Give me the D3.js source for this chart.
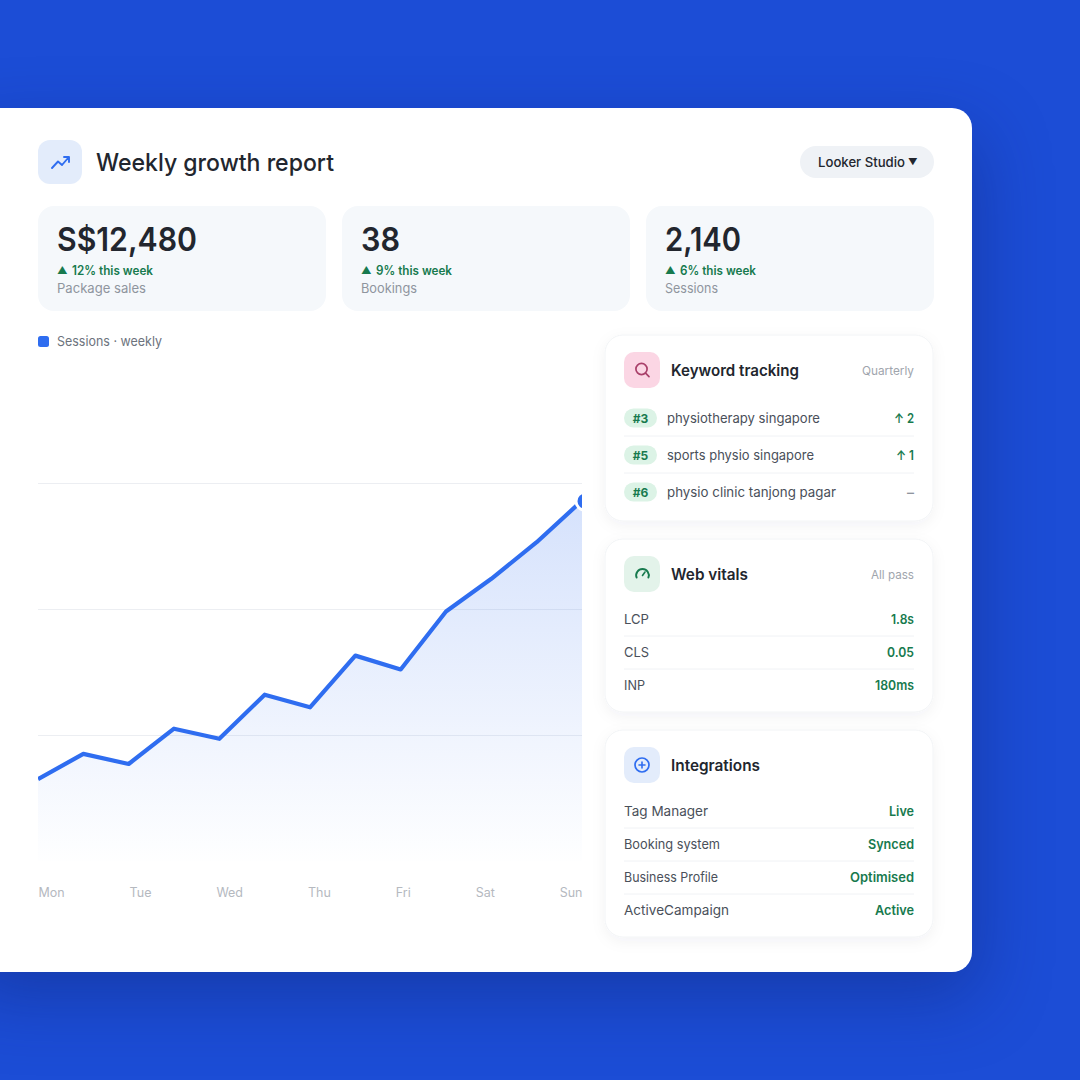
<!DOCTYPE html>
<html><head><meta charset="utf-8">
<script src="https://cdnjs.cloudflare.com/ajax/libs/d3/7.8.5/d3.min.js"></script>
<style>html,body{margin:0;padding:0;background:#1c4dd6;overflow:hidden}svg{display:block;position:absolute;left:0;top:0}text{font-family:Inter,"Noto Sans",sans-serif}
#shadow{position:absolute;left:-40px;top:108px;width:1012px;height:864px;border-radius:20px;box-shadow:6px 26px 70px rgba(12,32,105,.38)}</style>
</head><body><div id="shadow"></div><svg id="c" width="1080" height="1080" viewBox="0 0 1080 1080"></svg>
<script>
const pointIndex=[0,1,2,3,4,5,6,7,8,9,10,11,12];
const sessions=[65,85,77,105,97,132,122,163,152,198,224,253,286];
const gridTicks=[100,200,300];
const days=["Mon","Tue","Wed","Thu","Fri","Sat","Sun"];
const kpiValues=["S$12,480","38","2,140"];
const kpiDeltas=["12% this week","9% this week","6% this week"];
const kpiLabels=["Package sales","Bookings","Sessions"];
const keywordRanks=["#3","#5","#6"];
const keywordTerms=["physiotherapy singapore","sports physio singapore","physio clinic tanjong pagar"];
const keywordMoves=["↑ 2","↑ 1","–"];
const vitalNames=["LCP","CLS","INP"];
const vitalValues=["1.8s","0.05","180ms"];
const integrationNames=["Tag Manager","Booking system","Business Profile","ActiveCampaign"];
const integrationStates=["Live","Synced","Optimised","Active"];

const INK="#22262e",MUTED="#8f959e",BODY="#4a505a",GREEN="#177a4e",BLUE="#2f6df0",LINE="#f0f2f5";
const svg=d3.select("#c"),defs=svg.append("defs");
const pf=defs.append("filter").attr("id","panelShadow").attr("x","-15%").attr("y","-15%").attr("width","130%").attr("height","135%");
pf.append("feDropShadow").attr("dx",0).attr("dy",4).attr("stdDeviation",7).attr("flood-color","#1a2a50").attr("flood-opacity",.05);
const ag=defs.append("linearGradient").attr("id","area").attr("gradientUnits","userSpaceOnUse").attr("x1",0).attr("x2",0).attr("y1",500).attr("y2",861);
ag.append("stop").attr("offset",0).attr("stop-color",BLUE).attr("stop-opacity",.2);
ag.append("stop").attr("offset",1).attr("stop-color",BLUE).attr("stop-opacity",.005);
defs.append("clipPath").attr("id","plot").append("rect").attr("x",38).attr("y",400).attr("width",544).attr("height",461);

svg.append("rect").attr("x",-40).attr("y",108).attr("width",1012).attr("height",864).attr("rx",20).attr("fill","#fff");

function t(g,x,y,s,o={}){
  const e=g.append("text").attr("x",x).attr("y",y).text(s)
   .attr("font-size",o.size||13).attr("font-weight",o.weight||400).attr("fill",o.fill||BODY)
   .attr("text-anchor",o.anchor||"start").attr("dominant-baseline","central");
  if(o.w){e.attr("textLength",o.w).attr("lengthAdjust","spacingAndGlyphs");}
  return e;
}
const root=svg.append("g");
// header
root.append("rect").attr("x",38).attr("y",140).attr("width",44).attr("height",44).attr("rx",12).attr("fill","#e3ecfb");
root.append("path").attr("d","M52 168l6-6.5 4 3.5 6.5-7.5M64 157h5v5").attr("fill","none").attr("stroke",BLUE).attr("stroke-width",1.9).attr("stroke-linecap","round").attr("stroke-linejoin","round");
t(root,96,162,"Weekly growth report",{size:24,weight:500,fill:INK,w:238});
root.append("rect").attr("x",800).attr("y",146).attr("width",134).attr("height",32).attr("rx",16).attr("fill","#eff2f6");
t(root,818,161.5,"Looker Studio",{size:13,weight:500,fill:INK,w:87});
t(root,908,161.5,"▼",{size:9.5,fill:INK});

// KPI cards
const kpiX=[38,342,646],kpiW=[140,39,76],dW=[81,76,76],lW=[89,56,53];
kpiValues.forEach((v,i)=>{
  const x=kpiX[i];
  root.append("rect").attr("x",x).attr("y",206).attr("width",288).attr("height",105).attr("rx",16).attr("fill","#f5f8fb");
  t(root,x+19,239,v,{size:33,weight:600,fill:INK,w:kpiW[i]});
  t(root,x+19,270,"▲",{size:10.5,fill:GREEN});
  t(root,x+34,270,kpiDeltas[i],{size:12.5,weight:600,fill:GREEN,w:dW[i]});
  t(root,x+19,288,kpiLabels[i],{size:13.5,fill:MUTED,w:lW[i]});
});
// legend
root.append("rect").attr("x",38).attr("y",336).attr("width",11).attr("height",11).attr("rx",2.5).attr("fill",BLUE);
t(root,57,341,"Sessions · weekly",{size:13.5,fill:"#6d737d",w:105});

// chart
const x=d3.scaleLinear().domain([0,12]).range([38,582]);
const y=d3.scaleLinear().domain([0,300]).range([861,483]);
const gridG=root.append("g").attr("transform","translate(38,0)").call(d3.axisLeft(y).tickValues(gridTicks).tickSize(-544).tickFormat(""));
gridG.select(".domain").remove();
gridG.selectAll("line").attr("stroke","#eceef2").attr("stroke-width",1);
const plot=root.append("g").attr("clip-path","url(#plot)");
plot.append("path").datum(sessions).attr("fill","url(#area)")
  .attr("d",d3.area().x((d,i)=>x(pointIndex[i])).y0(y(0)).y1(d=>y(d)));
const lineG=root.append("g").attr("clip-path","url(#plot)");
lineG.append("path").datum(sessions).attr("fill","none").attr("stroke",BLUE).attr("stroke-width",4.2).attr("stroke-linejoin","round")
  .attr("d",d3.line().x((d,i)=>x(pointIndex[i])).y(d=>y(d)));
lineG.append("circle").attr("cx",x(12)+3).attr("cy",y(sessions[12])+.5).attr("r",9).attr("fill",BLUE).attr("stroke","#fff").attr("stroke-width",3);

// x axis: labels spread edge to edge
const meas=root.append("g").attr("opacity",0);
const widths=days.map(d=>t(meas,0,0,d,{size:12.5}).node().getComputedTextLength());
meas.remove();
const gap=(544-d3.sum(widths))/(days.length-1);
let cur=38;const centres=widths.map(w=>{const c=cur+w/2;cur+=w+gap;return c;});
const xDay=d3.scaleOrdinal().domain(days).range(centres);
const ax=root.append("g").attr("transform","translate(0,892)").call(d3.axisBottom(xDay).tickSize(0).tickPadding(0));
ax.select(".domain").remove();
ax.selectAll("text").attr("font-size",12.5).attr("fill","#b5b9bf").attr("dy",0).attr("dominant-baseline","central").style("font-family","Inter,sans-serif");

// panels
function panel(py,ph,iconFill,title,tw,note,nw){
  root.append("rect").attr("x",605).attr("y",py).attr("width",328).attr("height",ph).attr("rx",18).attr("fill","#fff").attr("stroke","#f2f4f6").attr("filter","url(#panelShadow)");
  root.append("rect").attr("x",624).attr("y",py+17).attr("width",36).attr("height",36).attr("rx",10).attr("fill",iconFill);
  t(root,671,py+35,title,{size:15.5,weight:600,fill:INK,w:tw});
  if(note)t(root,914-nw,py+35,note,{size:12,fill:"#a0a5ad",w:nw});
}
function seps(ys){ys.forEach(v=>root.append("line").attr("x1",624).attr("x2",914).attr("y1",v).attr("y2",v).attr("stroke",LINE));}
panel(335,186,"#fbd6e4","Keyword tracking",128,"Quarterly",52);
root.append("circle").attr("cx",641.5).attr("cy",369).attr("r",5.6).attr("fill","none").attr("stroke","#a9406a").attr("stroke-width",1.7);
root.append("line").attr("x1",645.6).attr("y1",373.2).attr("x2",649).attr("y2",376.6).attr("stroke","#a9406a").attr("stroke-width",1.7).attr("stroke-linecap","round");
seps([436,473]);
const kwW=[153,147,169],mvW=[20,18,7];
keywordTerms.forEach((s,i)=>{
  const ry=418+i*37;
  root.append("rect").attr("x",624).attr("y",ry-9.5).attr("width",33).attr("height",19).attr("rx",9.5).attr("fill","#dcf3e6");
  t(root,640.5,ry,keywordRanks[i],{size:12,weight:700,fill:GREEN,anchor:"middle"});
  t(root,667,ry,s,{size:13.5,fill:BODY,w:kwW[i]});
  t(root,914-mvW[i],ry,keywordMoves[i],{size:13,weight:600,fill:i<2?GREEN:MUTED,w:mvW[i]});
});
panel(539,173,"#e3f3ea","Web vitals",77,"All pass",43);
root.append("path").attr("d","M636.6 577.5a6.3 6.3 0 1 1 11.8 0").attr("fill","none").attr("stroke",GREEN).attr("stroke-width",2).attr("stroke-linecap","round");
root.append("line").attr("x1",642.5).attr("y1",575.5).attr("x2",645).attr("y2",572).attr("stroke",GREEN).attr("stroke-width",1.6).attr("stroke-linecap","round");
seps([636,669]);
const vW=[25,25,21],vvW=[23,27,39];
vitalNames.forEach((s,i)=>{const ry=619+i*33;
  t(root,624,ry,s,{size:13.5,fill:BODY,w:vW[i]});
  t(root,914-vvW[i],ry,vitalValues[i],{size:13,weight:600,fill:GREEN,w:vvW[i]});
});
panel(730,207,"#e3ecfb","Integrations",89,"",0);
root.append("circle").attr("cx",642).attr("cy",765).attr("r",7).attr("fill","none").attr("stroke",BLUE).attr("stroke-width",1.7);
root.append("path").attr("d","M639 765h6M642 762v6").attr("stroke",BLUE).attr("stroke-width",1.6).attr("stroke-linecap","round");
seps([828,861,894]);
const iW=[84,96,94,105],sW=[25,46,64,39];
integrationNames.forEach((s,i)=>{const ry=811+i*33;
  t(root,624,ry,s,{size:13.5,fill:BODY,w:iW[i]});
  t(root,914-sW[i],ry,integrationStates[i],{size:13,weight:600,fill:GREEN,w:sW[i]});
});
</script></body></html>
